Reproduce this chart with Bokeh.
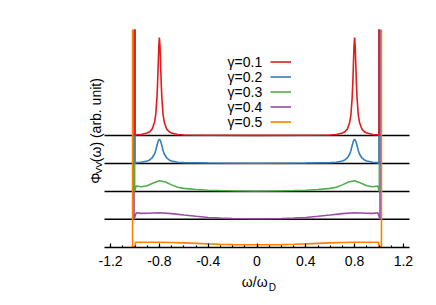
import math
from bokeh.plotting import figure
from bokeh.models import Legend, LegendItem, Label, FixedTicker, Range1d
from bokeh.embed import file_html
from bokeh.resources import INLINE

# ---------------- data ----------------
gammas = ["γ=0.1", "γ=0.2", "γ=0.3", "γ=0.4", "γ=0.5"]
colors = ["#e41a1c", "#377eb8", "#4daf4a", "#984ea3", "#ff7f00"]
offsets = [4, 3, 2, 1, 0]          # vertical offset of each curve
baselines = [4, 3, 2, 1]           # black reference lines

w_01 = [-1.0, -1.0, -0.99, -0.95, -0.9, -0.88, -0.86, -0.84, -0.83, -0.82, -0.815, -0.81, -0.805,
        -0.8, -0.795, -0.79, -0.785, -0.78, -0.77, -0.76, -0.74, -0.72, -0.7, -0.65, -0.6, -0.4,
        0.0, 0.4, 0.6, 0.65, 0.7, 0.72, 0.74, 0.76, 0.77, 0.78, 0.785, 0.79, 0.795, 0.8, 0.805,
        0.81, 0.815, 0.82, 0.83, 0.84, 0.86, 0.88, 0.9, 0.95, 0.99, 1.0, 1.0]
phi_01 = [20, 0, 0.03, 0.04, 0.09, 0.136, 0.23, 0.48, 0.75, 1.36, 1.86, 2.51, 3.19,
          3.51, 3.19, 2.51, 1.86, 1.36, 0.75, 0.48, 0.23, 0.136, 0.09, 0.04, 0.02, 0.01,
          0.005, 0.01, 0.02, 0.04, 0.09, 0.136, 0.23, 0.48, 0.75, 1.36, 1.86, 2.51, 3.19, 3.51, 3.19,
          2.51, 1.86, 1.36, 0.75, 0.48, 0.23, 0.136, 0.09, 0.04, 0.03, 0, 20]

w_02 = [-1.0, -1.0, -0.99, -0.95, -0.9, -0.88, -0.86, -0.84, -0.83, -0.82, -0.81, -0.8,
        -0.79, -0.78, -0.77, -0.76, -0.74, -0.72, -0.7, -0.65, -0.6, -0.4, 0.0,
        0.4, 0.6, 0.65, 0.7, 0.72, 0.74, 0.76, 0.77, 0.78, 0.79, 0.8,
        0.81, 0.82, 0.83, 0.84, 0.86, 0.88, 0.9, 0.95, 0.99, 1.0, 1.0]
phi_02 = [20, 0, 0.03, 0.043, 0.086, 0.125, 0.197, 0.34, 0.466, 0.645, 0.80, 0.875,
          0.80, 0.645, 0.466, 0.34, 0.197, 0.125, 0.086, 0.043, 0.029, 0.015, 0.01,
          0.015, 0.029, 0.043, 0.086, 0.125, 0.197, 0.34, 0.466, 0.645, 0.80, 0.875,
          0.80, 0.645, 0.466, 0.34, 0.197, 0.125, 0.086, 0.043, 0.03, 0, 20]

w_03 = [-1.003, -1.003, -0.99, -0.95, -0.9, -0.85, -0.8, -0.75, -0.7, -0.65, -0.6, -0.5, -0.4,
        -0.3, -0.2, 0.0, 0.2, 0.3, 0.4, 0.5, 0.6, 0.65, 0.7, 0.75, 0.8, 0.85, 0.9, 0.95, 0.99,
        1.003, 1.003]
phi_03 = [20, 0, 0.19, 0.165, 0.2, 0.3, 0.384, 0.333, 0.233, 0.15, 0.108, 0.065, 0.043,
          0.029, 0.022, 0.014, 0.022, 0.029, 0.043, 0.065, 0.108, 0.15, 0.233, 0.333, 0.384, 0.3,
          0.2, 0.165, 0.19, 0, 20]

w_04 = [-1.008, -1.008, -0.99, -0.95, -0.9, -0.8, -0.7, -0.6, -0.5, -0.4, -0.3, -0.2, 0.0,
        0.2, 0.3, 0.4, 0.5, 0.6, 0.7, 0.8, 0.9, 0.95, 0.99, 1.008, 1.008]
phi_04 = [20, 0, 0.237, 0.211, 0.215, 0.237, 0.204, 0.154, 0.108, 0.065, 0.043, 0.029, 0.018,
          0.029, 0.043, 0.065, 0.108, 0.154, 0.204, 0.237, 0.215, 0.211, 0.237, 0, 20]

w_05 = [-1.02, -1.02, -1.0, -0.995, -0.95, -0.9, -0.8, -0.7, -0.6, -0.5, -0.4, -0.3, -0.2, 0.0,
        0.2, 0.3, 0.4, 0.5, 0.6, 0.7, 0.8, 0.9, 0.95, 0.995, 1.0, 1.02, 1.02]
phi_05 = [20, 0, 0.02, 0.179, 0.179, 0.179, 0.179, 0.168, 0.154, 0.136, 0.118, 0.104, 0.093, 0.086,
          0.093, 0.104, 0.118, 0.136, 0.154, 0.168, 0.179, 0.179, 0.179, 0.179, 0.02, 0, 20]

omegas = [w_01, w_02, w_03, w_04, w_05]
phis = [phi_01, phi_02, phi_03, phi_04, phi_05]

x_lo, x_hi = -1.25, 1.25
x_ticks = [-1.2, -0.8, -0.4, 0, 0.4, 0.8, 1.2]
x_tick_labels = ["-1.2", "-0.8", "-0.4", "0", "0.4", "0.8", "1.2"]
x_minor = [-1.2, -1.1, -1.0, -0.9, -0.8, -0.7, -0.6, -0.5, -0.4, -0.3, -0.2, -0.1, 0.0,
           0.1, 0.2, 0.3, 0.4, 0.5, 0.6, 0.7, 0.8, 0.9, 1.0, 1.1, 1.2]

# ---------------- layout (pixels) ----------------
FONT = "Liberation Sans"
W, H = 420, 297
PL, PR, PT, PB = 104.0, 409.0, 29.0, 246.7      # data box in canvas pixels
Y_TOP = 7.8                                     # data value at top of box
px_x = (PR - PL) / (x_hi - x_lo)
px_y = (PB - PT) / Y_TOP
xr = Range1d(x_lo - PL / px_x, x_hi + (W - PR) / px_x)
yr = Range1d(-(H - PB) / px_y, Y_TOP)

p = figure(width=W, height=H, output_backend="svg", toolbar_location=None,
           x_range=xr, y_range=yr, y_axis_location=None,
           min_border_left=0, min_border_right=0, min_border_top=int(PT),
           min_border_bottom=0)
p.outline_line_color = None
p.xgrid.visible = False
p.ygrid.visible = False
p.background_fill_color = "white"
p.border_fill_color = "white"

ax = p.xaxis[0]
ax.fixed_location = 0
ax.bounds = (x_lo, x_hi)
ax.ticker = FixedTicker(ticks=x_ticks, minor_ticks=x_minor)
ax.major_label_overrides = {t: l for t, l in zip(x_ticks, x_tick_labels)}
ax.major_tick_in = 4
ax.major_tick_out = 0
ax.minor_tick_in = 2
ax.minor_tick_out = 0
ax.axis_line_width = 1.5
ax.major_tick_line_width = 1.2
ax.minor_tick_line_width = 1.2
ax.major_label_text_font = FONT
ax.major_label_text_font_size = "14px"
ax.major_label_text_color = "black"
ax.major_label_standoff = 9

# black reference lines
p.segment(x0=[x_lo] * len(baselines), y0=baselines, x1=[x_hi] * len(baselines), y1=baselines,
          line_color="black", line_width=1.5)

line_rs = [None] * 5
for i in reversed(range(5)):          # orange first, red on top
    ys = [v + offsets[i] for v in phis[i]]
    line_rs[i] = p.line(omegas[i], ys, line_color=colors[i], line_width=1.6)

# legend: line samples via Legend, text to the left via Labels (gnuplot style)
items = [LegendItem(label=" ", renderers=[r]) for r in line_rs]
legend = Legend(items=items, location=(270, H - 129.2), padding=0, margin=0, spacing=0,
                glyph_width=21, glyph_height=15, label_standoff=0, label_width=1,
                label_height=15, label_text_font_size="1px",
                background_fill_alpha=0, border_line_alpha=0)
p.add_layout(legend)

row_y = [61.7, 76.7, 91.7, 106.7, 121.7]
for g, yy in zip(gammas, row_y):
    p.add_layout(Label(x=261.7, y=H - yy, x_units="screen", y_units="screen", text=g,
                       text_align="right", text_baseline="middle", text_font=FONT,
                       text_font_size="14px", text_color="black"))

# x axis label  ω/ω_D
p.add_layout(Label(x=254.2, y=H - 281.7, x_units="screen", y_units="screen", text="ω/ω",
                   text_align="center", text_baseline="middle", text_font=FONT,
                   text_font_size="14px", text_color="black"))
p.add_layout(Label(x=268.3, y=H - 286.7, x_units="screen", y_units="screen", text="D",
                   text_align="left", text_baseline="middle", text_font=FONT,
                   text_font_size="10px", text_color="black"))

# y axis label  Φ_VV(ω) (arb. unit)
p.add_layout(Label(x=95, y=H - 183.3, x_units="screen", y_units="screen", text="Φ",
                   angle=math.pi / 2, text_align="left", text_baseline="alphabetic",
                   text_font=FONT, text_font_size="14px", text_color="black"))
p.add_layout(Label(x=98, y=H - 173.3, x_units="screen", y_units="screen", text="VV",
                   angle=math.pi / 2, text_align="left", text_baseline="alphabetic",
                   text_font=FONT, text_font_size="9px", text_color="black"))
p.add_layout(Label(x=95, y=H - 161.7, x_units="screen", y_units="screen", text="(ω) (arb. unit)",
                   angle=math.pi / 2, text_align="left", text_baseline="alphabetic",
                   text_font=FONT, text_font_size="14px", text_color="black"))

open("out.html", "w").write(file_html(p, INLINE))
